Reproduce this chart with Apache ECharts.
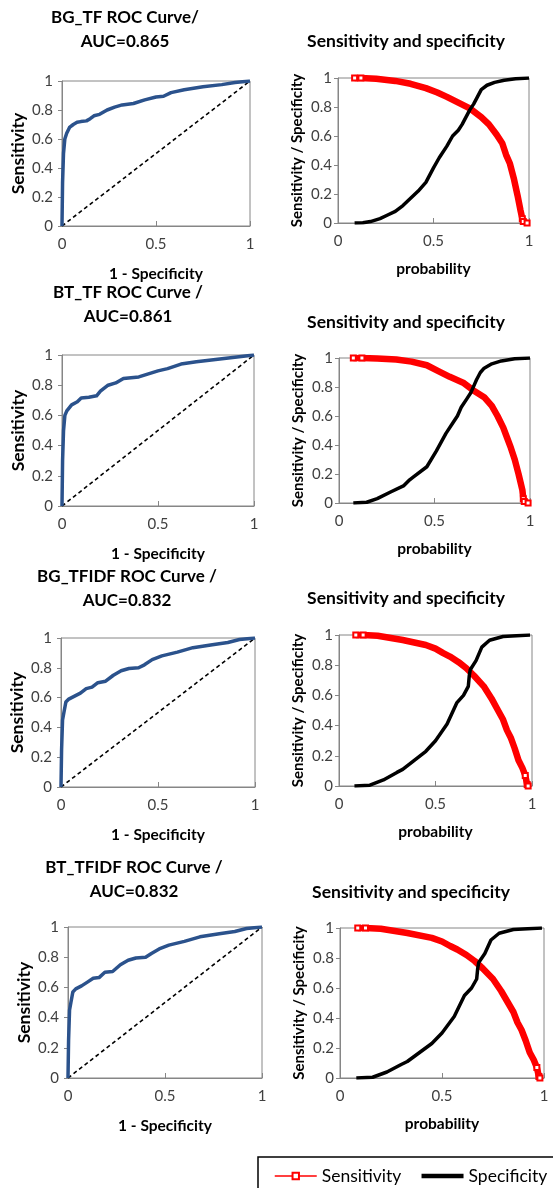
<!DOCTYPE html>
<html>
<head>
<meta charset="utf-8">
<script src="https://cdn.jsdelivr.net/npm/echarts@6/dist/echarts.min.js"></script>
<style>
  html, body { margin: 0; padding: 0; background: #fff; }
  #chart { width: 553px; height: 1188px; }
</style>
</head>
<body>
<div id="chart"></div>
<script>
// ---- Panel titles ----
const rocTitles = [
  'BG_TF ROC Curve/\nAUC=0.865',
  'BT_TF ROC Curve /\nAUC=0.861',
  'BG_TFIDF ROC Curve /\nAUC=0.832',
  'BT_TFIDF ROC Curve /\nAUC=0.832'
];
const ssTitle = 'Sensitivity and specificity';

// ---- Tick values ----
const xTicks = [0, 0.5, 1];
const yTicks = [0, 0.2, 0.4, 0.6, 0.8, 1];

// ---- Chance diagonal ----
const diagonal = [[0, 0], [1, 1]];

// ---- ROC curves: [1 - specificity, sensitivity] ----
const rocBgTf = [[0,0],[0.003,0.3],[0.008,0.5],[0.015,0.6],[0.025,0.64],[0.04,0.68],[0.06,0.7],[0.08,0.715],[0.1,0.72],[0.13,0.725],[0.15,0.74],[0.17,0.76],[0.2,0.77],[0.24,0.8],[0.28,0.82],[0.32,0.835],[0.38,0.845],[0.44,0.87],[0.5,0.89],[0.54,0.895],[0.58,0.92],[0.65,0.94],[0.75,0.96],[0.85,0.975],[0.92,0.99],[1,1]];
const rocBtTf = [[0,0],[0.003,0.3],[0.008,0.5],[0.015,0.6],[0.025,0.63],[0.05,0.67],[0.08,0.69],[0.1,0.715],[0.14,0.72],[0.18,0.73],[0.2,0.76],[0.24,0.8],[0.28,0.815],[0.32,0.845],[0.36,0.85],[0.4,0.855],[0.45,0.875],[0.5,0.895],[0.55,0.91],[0.62,0.94],[0.7,0.955],[0.8,0.97],[0.9,0.985],[1,1]];
const rocBgTfidf = [[0,0],[0.003,0.25],[0.008,0.45],[0.015,0.5],[0.025,0.57],[0.04,0.59],[0.07,0.61],[0.1,0.63],[0.13,0.66],[0.16,0.67],[0.19,0.7],[0.23,0.71],[0.27,0.75],[0.31,0.78],[0.35,0.795],[0.4,0.8],[0.43,0.82],[0.47,0.855],[0.52,0.88],[0.6,0.905],[0.68,0.935],[0.78,0.955],[0.86,0.97],[0.92,0.99],[1,1]];
const rocBtTfidf = [[0,0],[0.003,0.25],[0.008,0.45],[0.015,0.5],[0.025,0.57],[0.04,0.59],[0.07,0.61],[0.1,0.635],[0.13,0.66],[0.16,0.665],[0.19,0.7],[0.23,0.705],[0.27,0.75],[0.31,0.78],[0.35,0.795],[0.4,0.8],[0.43,0.825],[0.47,0.855],[0.52,0.88],[0.6,0.905],[0.68,0.935],[0.78,0.955],[0.86,0.97],[0.92,0.99],[1,1]];

// ---- Sensitivity / specificity against probability threshold ----
const sensBgTf = [[0.087,1],[0.12,1],[0.2,0.995],[0.3,0.98],[0.38,0.96],[0.46,0.93],[0.52,0.9],[0.57,0.87],[0.63,0.83],[0.69,0.79],[0.75,0.73],[0.79,0.68],[0.83,0.61],[0.86,0.55],[0.88,0.47],[0.9,0.41],[0.92,0.31],[0.94,0.19],[0.955,0.09],[0.965,0.03],[0.97,0.01],[0.99,0]];
const specBgTf = [[0.087,0],[0.13,0.002],[0.17,0.01],[0.22,0.03],[0.26,0.055],[0.3,0.08],[0.34,0.12],[0.38,0.17],[0.42,0.22],[0.46,0.28],[0.5,0.38],[0.53,0.45],[0.57,0.53],[0.6,0.6],[0.63,0.64],[0.65,0.68],[0.67,0.73],[0.69,0.78],[0.71,0.82],[0.73,0.87],[0.75,0.92],[0.78,0.95],[0.82,0.97],[0.87,0.985],[0.93,0.995],[1,1]];

const sensBtTf = [[0.075,1],[0.12,1],[0.2,0.997],[0.3,0.99],[0.38,0.975],[0.46,0.95],[0.52,0.91],[0.58,0.87],[0.65,0.83],[0.7,0.78],[0.76,0.73],[0.8,0.67],[0.83,0.6],[0.86,0.52],[0.88,0.45],[0.9,0.38],[0.92,0.3],[0.94,0.2],[0.96,0.09],[0.965,0.03],[0.97,0.01],[0.99,0]];
const specBtTf = [[0.075,0],[0.145,0.005],[0.2,0.03],[0.27,0.076],[0.34,0.12],[0.37,0.16],[0.39,0.18],[0.46,0.25],[0.51,0.36],[0.56,0.48],[0.6,0.56],[0.62,0.6],[0.64,0.66],[0.67,0.72],[0.69,0.76],[0.71,0.82],[0.72,0.85],[0.74,0.9],[0.76,0.93],[0.8,0.96],[0.85,0.98],[0.92,0.995],[1,1]];

const sensBgTfidf = [[0.087,1],[0.125,1],[0.2,0.995],[0.33,0.967],[0.45,0.934],[0.5,0.91],[0.54,0.88],[0.575,0.857],[0.62,0.82],[0.66,0.78],[0.7,0.73],[0.75,0.66],[0.79,0.58],[0.82,0.51],[0.85,0.44],[0.87,0.37],[0.89,0.32],[0.91,0.25],[0.93,0.17],[0.95,0.12],[0.965,0.07],[0.975,0.01],[0.98,0]];
const specBgTfidf = [[0.08,0],[0.16,0.005],[0.23,0.04],[0.3,0.09],[0.33,0.11],[0.38,0.16],[0.45,0.23],[0.5,0.3],[0.56,0.41],[0.61,0.55],[0.645,0.6],[0.67,0.66],[0.675,0.73],[0.68,0.77],[0.71,0.83],[0.74,0.92],[0.78,0.965],[0.85,0.99],[0.99,1]];

const sensBtTfidf = [[0.087,1],[0.125,1],[0.2,0.995],[0.33,0.967],[0.45,0.934],[0.5,0.91],[0.54,0.88],[0.575,0.857],[0.62,0.82],[0.66,0.78],[0.7,0.73],[0.75,0.66],[0.79,0.58],[0.82,0.51],[0.85,0.44],[0.87,0.37],[0.89,0.32],[0.91,0.25],[0.93,0.17],[0.95,0.12],[0.965,0.07],[0.975,0.01],[0.98,0]];
const specBtTfidf = [[0.08,0],[0.16,0.005],[0.23,0.04],[0.3,0.09],[0.33,0.11],[0.38,0.16],[0.45,0.23],[0.5,0.3],[0.56,0.41],[0.61,0.55],[0.645,0.6],[0.67,0.66],[0.675,0.73],[0.68,0.77],[0.71,0.83],[0.74,0.92],[0.78,0.965],[0.85,0.99],[0.99,1]];

const rocSets = [rocBgTf, rocBtTf, rocBgTfidf, rocBtTfidf];
const sensSets = [sensBgTf, sensBtTf, sensBgTfidf, sensBtTfidf];
const specSets = [specBgTf, specBtTf, specBgTfidf, specBtTfidf];

// ---- Layout ----
const FONT = 'Lato, "Open Sans", sans-serif';
const AXIS_GREY = '#868686';
const ROC_BLUE = '#2B528C';

// plot rectangles [left, top, right, bottom]
const rocRects = [[62, 81, 250, 226], [62, 355, 254, 506], [61, 638, 255, 787], [68, 927, 262, 1078]];
const ssRects  = [[338, 78, 529, 223], [339, 358, 530, 503], [339, 635, 532, 786], [340, 928, 544, 1078]];
const rocTitlePos = [[125, 6], [128, 281], [127, 565], [134, 856]];
const ssTitlePos  = [[406, 41], [406, 322], [406, 598], [411, 892]];

const grids = [], xAxes = [], yAxes = [], series = [], graphics = [];

function addPanel(rect, xName, xNameGap, yName, yNameGap, yNameSize, yLabelMargin) {
  const idx = grids.length;
  grids.push({
    left: rect[0], top: rect[1], width: rect[2] - rect[0], height: rect[3] - rect[1],
    show: true, borderColor: AXIS_GREY, borderWidth: 1, backgroundColor: 'transparent'
  });
  xAxes.push({
    gridIndex: idx, type: 'value',
    min: xTicks[0], max: xTicks[xTicks.length - 1], interval: xTicks[1] - xTicks[0],
    axisLine: { show: true, lineStyle: { color: AXIS_GREY, width: 1 } },
    axisTick: { show: true, inside: true, length: 5, lineStyle: { color: AXIS_GREY } },
    splitLine: { show: false },
    axisLabel: { margin: 11, fontFamily: FONT, fontSize: 15, color: '#404040' },
    name: xName, nameLocation: 'middle', nameGap: xNameGap,
    nameTextStyle: { fontFamily: FONT, fontSize: 15.5, fontWeight: 'bold', color: '#000' }
  });
  yAxes.push({
    gridIndex: idx, type: 'value',
    min: yTicks[0], max: yTicks[yTicks.length - 1], interval: yTicks[1] - yTicks[0],
    axisLine: { show: true, lineStyle: { color: AXIS_GREY, width: 1 } },
    axisTick: { show: true, inside: false, length: 4, lineStyle: { color: AXIS_GREY } },
    splitLine: { show: false },
    axisLabel: { margin: yLabelMargin, fontFamily: FONT, fontSize: 15, color: '#404040' },
    name: yName, nameLocation: 'middle', nameGap: yNameGap,
    nameTextStyle: { fontFamily: FONT, fontSize: yNameSize, fontWeight: 'bold', color: '#000' }
  });
  return idx;
}

for (let i = 0; i < 4; i++) {
  // ROC panel
  const r = addPanel(rocRects[i], '1 - Specificity', 40, 'Sensitivity', 35, 17.5, 9);
  series.push({
    name: 'Chance', type: 'line', xAxisIndex: r, yAxisIndex: r, data: diagonal,
    symbol: 'none', lineStyle: { color: '#000', width: 1.6, type: [4, 3] }, z: 2
  });
  series.push({
    name: 'ROC', type: 'line', xAxisIndex: r, yAxisIndex: r, data: rocSets[i],
    symbol: 'none', lineStyle: { color: ROC_BLUE, width: 3.5, join: 'round' }, z: 3
  });
  graphics.push({
    type: 'text', x: rocTitlePos[i][0], y: rocTitlePos[i][1],
    style: { text: rocTitles[i], align: 'center', verticalAlign: 'top', lineHeight: 24,
             fontFamily: FONT, fontSize: 17, fontWeight: 'bold', fill: '#000' }
  });

  // Sensitivity / specificity panel
  const s = addPanel(ssRects[i], 'probability', 38, 'Sensitivity / Specificity', 33, 15, 6);
  const sens = sensSets[i];
  series.push({
    name: 'Sensitivity', type: 'line', xAxisIndex: s, yAxisIndex: s,
    symbol: 'emptyRect', symbolSize: 5, showAllSymbol: true,
    // hollow markers only where the threshold points are sparse
    data: sens.map((p, k) => (k < 2 || k >= sens.length - 3) ? { value: p } : { value: p, symbol: 'none' }),
    itemStyle: { color: '#FF0000', borderWidth: 1.5 },
    lineStyle: { color: '#FF0000', width: 6.5 }, z: 3
  });
  series.push({
    name: 'Specificity', type: 'line', xAxisIndex: s, yAxisIndex: s, data: specSets[i],
    symbol: 'none', itemStyle: { color: '#000' },
    lineStyle: { color: '#000', width: 3.5 }, z: 4
  });
  graphics.push({
    type: 'text', x: ssTitlePos[i][0], y: ssTitlePos[i][1],
    style: { text: ssTitle, align: 'center', verticalAlign: 'middle',
             fontFamily: FONT, fontSize: 17.5, fontWeight: 'bold', fill: '#000' }
  });
}

const chart = echarts.init(document.getElementById('chart'), null, { renderer: 'canvas' });
chart.setOption({
  animation: false,
  backgroundColor: '#fff',
  grid: grids,
  xAxis: xAxes,
  yAxis: yAxes,
  series: series,
  graphic: graphics,
  legend: {
    data: [
      { name: 'Sensitivity', lineStyle: { width: 1.5 } },
      { name: 'Specificity', lineStyle: { width: 4.5 }, itemStyle: { opacity: 0 } }
    ],
    orient: 'horizontal',
    left: 258, top: 1157, width: 330,
    itemWidth: 42, itemHeight: 8, itemGap: 18,
    padding: [10, 30, 30, 16],
    borderColor: '#000', borderWidth: 1.5,
    textStyle: { fontFamily: FONT, fontSize: 17.5, color: '#000' }
  }
});
</script>
</body>
</html>
